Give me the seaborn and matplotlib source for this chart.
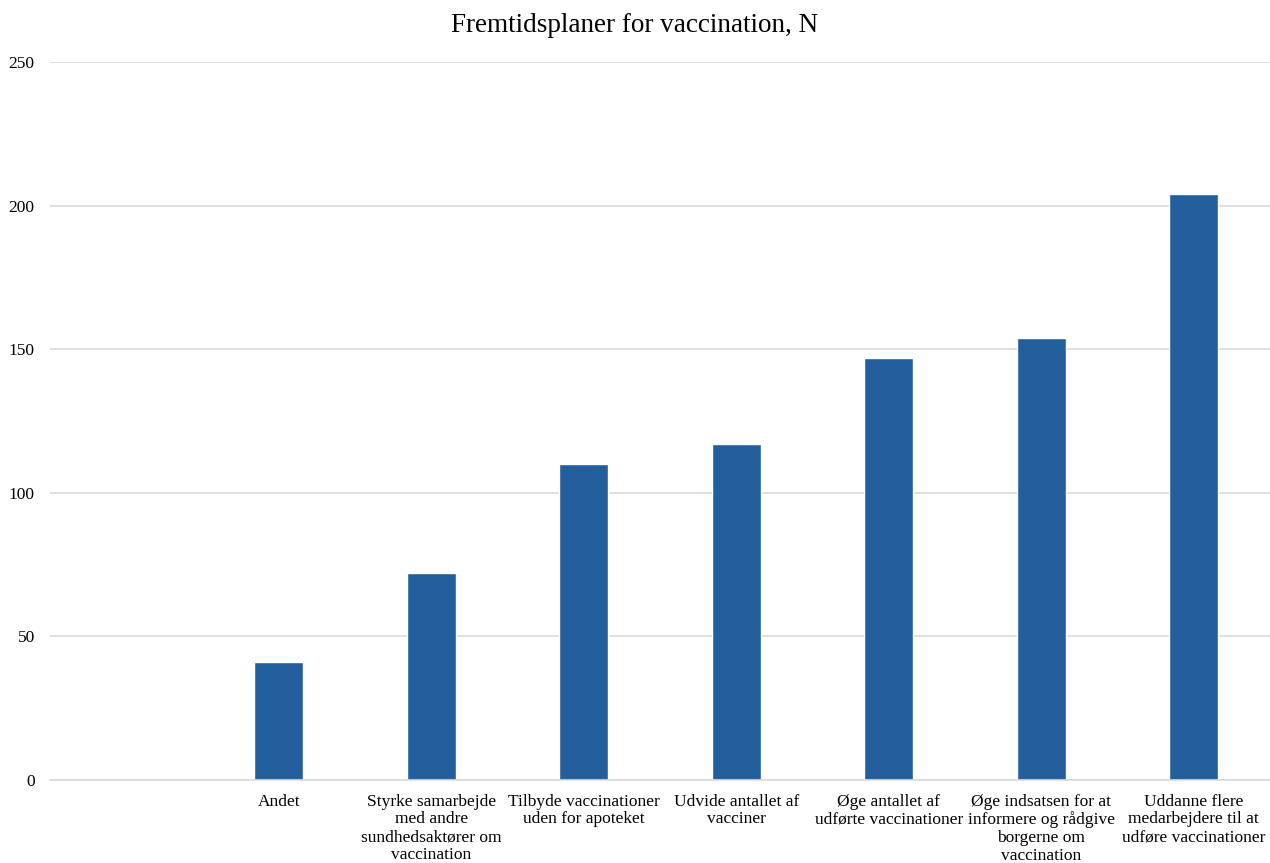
import numpy as np
import pandas as pd
import matplotlib
matplotlib.use("Agg")
import matplotlib.pyplot as plt
import seaborn as sns

# Categories (first slot is intentionally blank) and their counts
categories = [
    "",
    "Andet",
    "Styrke samarbejde\nmed andre\nsundhedsaktører om\nvaccination",
    "Tilbyde vaccinationer\nuden for apoteket",
    "Udvide antallet af\nvacciner",
    "Øge antallet af\nudførte vaccinationer",
    "Øge indsatsen for at\ninformere og rådgive\nborgerne om\nvaccination",
    "Uddanne flere\nmedarbejdere til at\nudføre vaccinationer",
]
counts = [np.nan, 41, 72, 110, 117, 147, 154, 204]
y_ticks = [0, 50, 100, 150, 200, 250]
title = "Fremtidsplaner for vaccination, N"

sns.set_theme(style="white")
plt.rcParams["font.family"] = ["Liberation Serif", "DejaVu Serif"]
plt.rcParams["text.color"] = "black"

df = pd.DataFrame({"kategori": categories, "antal": counts}).dropna()

fig = plt.figure(figsize=(12.7, 8.63), dpi=100)
ax = fig.add_axes([50 / 1270, 1 - 780 / 863, 1 - 50 / 1270, (780 - 62) / 863])

sns.barplot(data=df, x="kategori", y="antal", order=categories,
            color="#235f9c", saturation=1, width=0.32, ax=ax)

ax.set_ylim(0, 250)
ax.set_yticks(y_ticks)
ax.set_xlim(-0.5, len(categories) - 0.5)
ax.yaxis.grid(True, color="#d9d9d9", linewidth=1.2)
ax.set_axisbelow(True)
for side in ["left", "right", "top"]:
    ax.spines[side].set_visible(False)
ax.spines["bottom"].set_color("#d9d9d9")
ax.spines["bottom"].set_linewidth(1.2)
ax.tick_params(axis="both", length=0, labelsize=12.5, colors="black")
ax.tick_params(axis="y", pad=11)
ax.tick_params(axis="x", pad=10)
for lbl in ax.get_xticklabels():
    lbl.set_linespacing(1.13)
ax.set_xlabel("")
ax.set_ylabel("")

fig.suptitle(title, fontsize=19.5, y=0.985, color="black")

fig.savefig("out.png", dpi=100)
